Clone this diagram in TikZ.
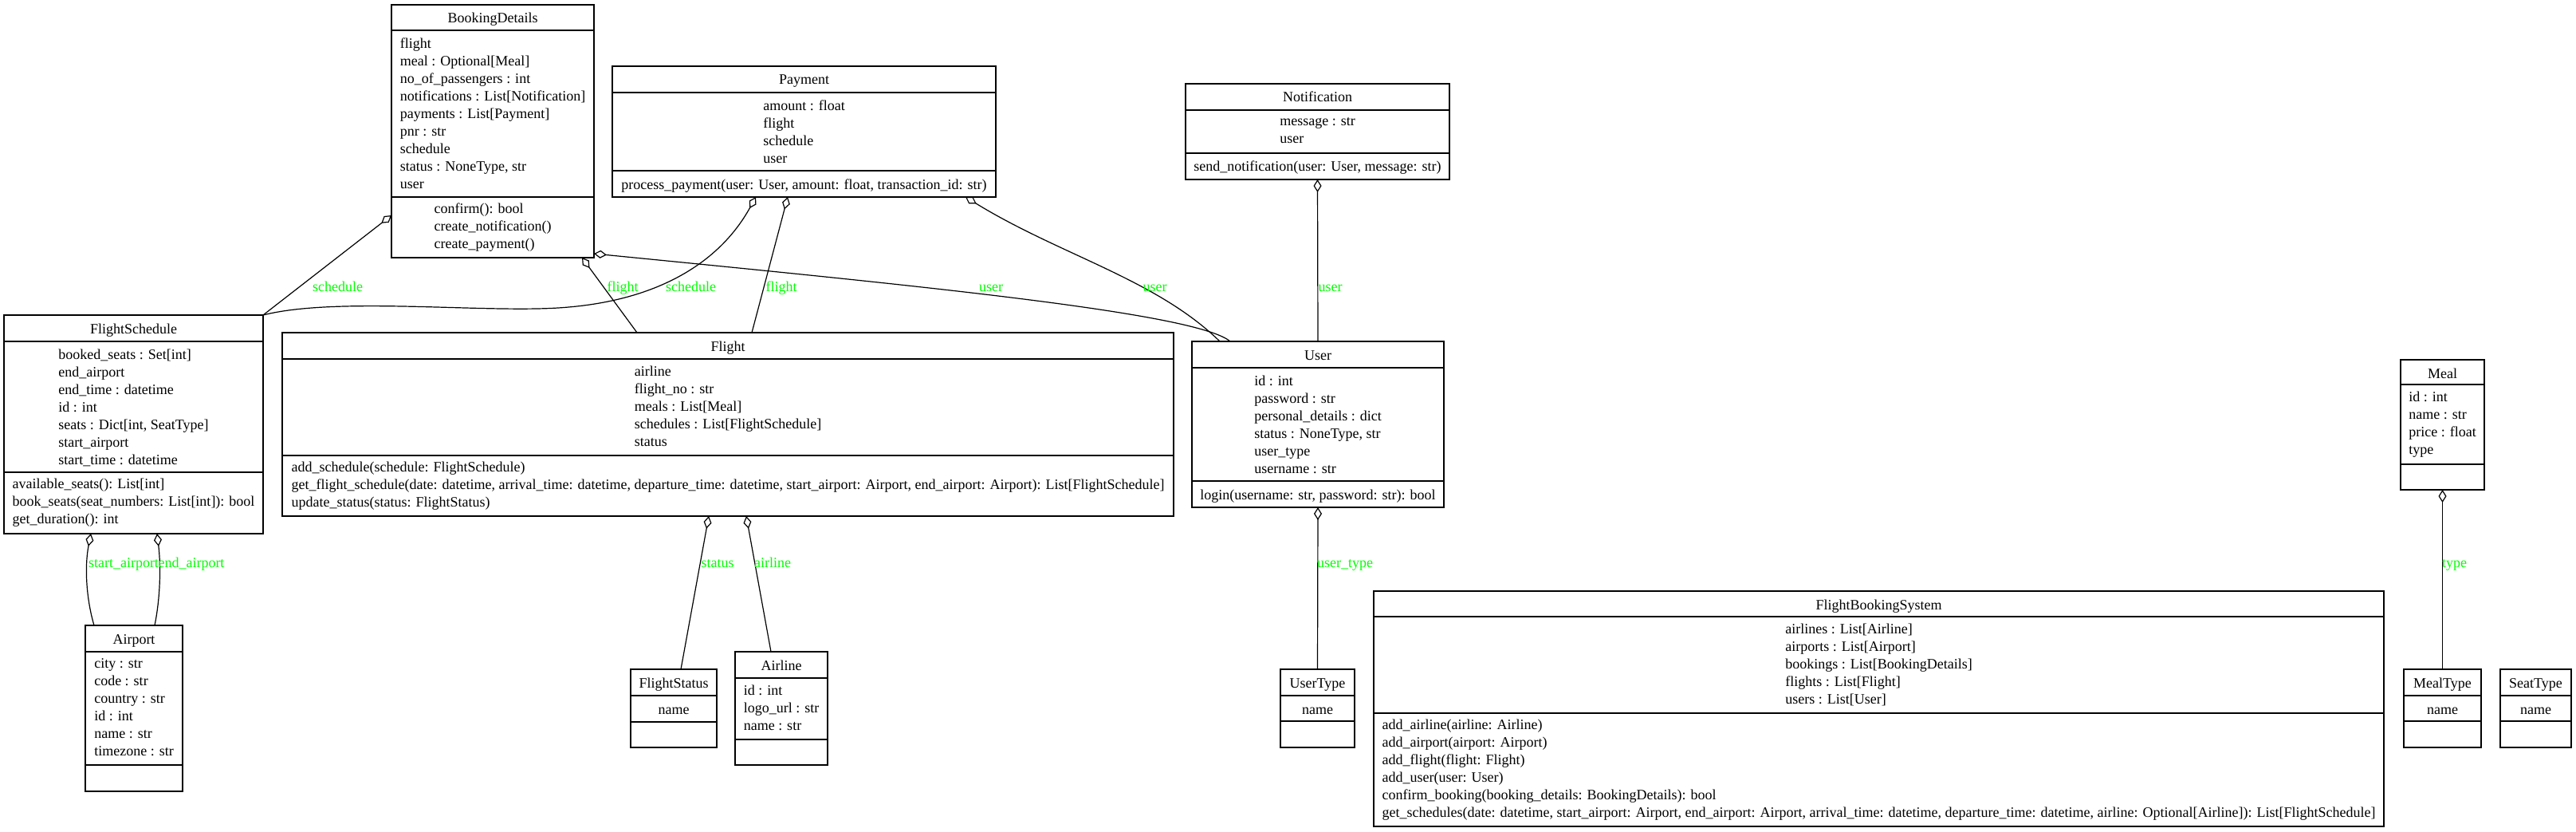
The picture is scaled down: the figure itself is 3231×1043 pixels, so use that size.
\documentclass[tikz,border=0pt]{standalone}
\usepackage{fontspec}
\setmainfont{Liberation Serif}
\usetikzlibrary{arrows.meta}
\definecolor{rolegreen}{RGB}{0,255,0}

\begin{document}
\begin{tikzpicture}[x=1pt, y=-1pt, line width=1.2pt,
    every node/.append style={font=\fontsize{18}{22}\selectfont},
    agg/.style={{Diamond[open,length=16pt,width=10pt]}-}]
  \tikzstyle{cls} = [draw, anchor=north west, inner sep=0pt, outer sep=0pt]
  \tikzstyle{txt} = [anchor=north, align=left, inner sep=0pt, execute at begin node=\strut]
  \tikzstyle{role} = [anchor=base, inner sep=0pt, text=rolegreen]
  \useasboundingbox (0,0) rectangle (3231,1043);

  % BookingDetails
  \node (bd) [cls, minimum width=254pt, minimum height=317pt] at (491,6) {};
  \draw (bd.west |- 0,38) -- (bd.east |- 0,38);
  \draw (bd.west |- 0,247) -- (bd.east |- 0,247);
  \node (bd-name) [txt] at (bd.north |- 0,13) {BookingDetails};
  \node (bd-attr) [txt] at (bd.north |- 0,47) {flight\\meal : Optional[Meal]\\no\_of\_passengers : int\\notifications : List[Notification]\\payments : List[Payment]\\pnr : str\\schedule\\status : NoneType, str\\user};
  \node (bd-ops) [txt] at (bd.north |- 0,254) {confirm(): bool\\create\_notification()\\create\_payment()};

  % Payment
  \node (pay) [cls, minimum width=481pt, minimum height=164pt] at (768,83) {};
  \draw (pay.west |- 0,116) -- (pay.east |- 0,116);
  \draw (pay.west |- 0,214) -- (pay.east |- 0,214);
  \node (pay-name) [txt] at (pay.north |- 0,90) {Payment};
  \node (pay-attr) [txt] at (pay.north |- 0,125) {amount : float\\flight\\schedule\\user};
  \node (pay-ops) [txt] at (pay.north |- 0,221) {process\_payment(user: User, amount: float, transaction\_id: str)};

  % Notification
  \node (notif) [cls, minimum width=331pt, minimum height=120pt] at (1487,105) {};
  \draw (notif.west |- 0,138) -- (notif.east |- 0,138);
  \draw (notif.west |- 0,192) -- (notif.east |- 0,192);
  \node (notif-name) [txt] at (notif.north |- 0,112) {Notification};
  \node (notif-attr) [txt] at (notif.north |- 0,147) {message : str\\user};
  \node (notif-ops) [txt] at (notif.north |- 0,199) {send\_notification(user: User, message: str)};

  % FlightSchedule
  \node (fs) [cls, minimum width=325pt, minimum height=274pt] at (5,395) {};
  \draw (fs.west |- 0,428) -- (fs.east |- 0,428);
  \draw (fs.west |- 0,592) -- (fs.east |- 0,592);
  \node (fs-name) [txt] at (fs.north |- 0,402) {FlightSchedule};
  \node (fs-attr) [txt] at (fs.north |- 0,437) {booked\_seats : Set[int]\\end\_airport\\end\_time : datetime\\id : int\\seats : Dict[int, SeatType]\\start\_airport\\start\_time : datetime};
  \node (fs-ops) [txt] at (fs.north |- 0,599) {available\_seats(): List[int]\\book\_seats(seat\_numbers: List[int]): bool\\get\_duration(): int};

  % Flight
  \node (fl) [cls, minimum width=1118pt, minimum height=230pt] at (354,417) {};
  \draw (fl.west |- 0,450) -- (fl.east |- 0,450);
  \draw (fl.west |- 0,571) -- (fl.east |- 0,571);
  \node (fl-name) [txt] at (fl.north |- 0,424) {Flight};
  \node (fl-attr) [txt] at (fl.north |- 0,458) {airline\\flight\_no : str\\meals : List[Meal]\\schedules : List[FlightSchedule]\\status};
  \node (fl-ops) [txt] at (fl.north |- 0,578) {add\_schedule(schedule: FlightSchedule)\\get\_flight\_schedule(date: datetime, arrival\_time: datetime, departure\_time: datetime, start\_airport: Airport, end\_airport: Airport): List[FlightSchedule]\\update\_status(status: FlightStatus)};

  % User
  \node (user) [cls, minimum width=316pt, minimum height=208pt] at (1495,428) {};
  \draw (user.west |- 0,461) -- (user.east |- 0,461);
  \draw (user.west |- 0,603) -- (user.east |- 0,603);
  \node (user-name) [txt] at (user.north |- 0,435) {User};
  \node (user-attr) [txt] at (user.north |- 0,470) {id : int\\password : str\\personal\_details : dict\\status : NoneType, str\\user\_type\\username : str};
  \node (user-ops) [txt] at (user.north |- 0,610) {login(username: str, password: str): bool};

  % Airport
  \node (ap) [cls, minimum width=122pt, minimum height=208pt] at (107,784) {};
  \draw (ap.west |- 0,817) -- (ap.east |- 0,817);
  \draw (ap.west |- 0,959) -- (ap.east |- 0,959);
  \node (ap-name) [txt] at (ap.north |- 0,791) {Airport};
  \node (ap-attr) [txt] at (ap.north |- 0,825) {city : str\\code : str\\country : str\\id : int\\name : str\\timezone : str};

  % FlightStatus
  \node (fst) [cls, minimum width=108pt, minimum height=98pt] at (791,839) {};
  \draw (fst.west |- 0,872) -- (fst.east |- 0,872);
  \draw (fst.west |- 0,905) -- (fst.east |- 0,905);
  \node (fst-name) [txt] at (fst.north |- 0,846) {FlightStatus};
  \node (fst-attr) [txt] at (fst.north |- 0,879) {name};

  % Airline
  \node (al) [cls, minimum width=116pt, minimum height=142pt] at (922,817) {};
  \draw (al.west |- 0,850) -- (al.east |- 0,850);
  \draw (al.west |- 0,927) -- (al.east |- 0,927);
  \node (al-name) [txt] at (al.north |- 0,824) {Airline};
  \node (al-attr) [txt] at (al.north |- 0,858) {id : int\\logo\_url : str\\name : str};

  % UserType
  \node (ut) [cls, minimum width=93pt, minimum height=98pt] at (1606,839) {};
  \draw (ut.west |- 0,872) -- (ut.east |- 0,872);
  \draw (ut.west |- 0,904) -- (ut.east |- 0,904);
  \node (ut-name) [txt] at (ut.north |- 0,846) {UserType};
  \node (ut-attr) [txt] at (ut.north |- 0,879) {name};

  % FlightBookingSystem
  \node (fbs) [cls, minimum width=1267pt, minimum height=295pt] at (1723,741) {};
  \draw (fbs.west |- 0,773) -- (fbs.east |- 0,773);
  \draw (fbs.west |- 0,894) -- (fbs.east |- 0,894);
  \node (fbs-name) [txt] at (fbs.north |- 0,748) {FlightBookingSystem};
  \node (fbs-attr) [txt] at (fbs.north |- 0,781) {airlines : List[Airline]\\airports : List[Airport]\\bookings : List[BookingDetails]\\flights : List[Flight]\\users : List[User]};
  \node (fbs-ops) [txt] at (fbs.north |- 0,901) {add\_airline(airline: Airline)\\add\_airport(airport: Airport)\\add\_flight(flight: Flight)\\add\_user(user: User)\\confirm\_booking(booking\_details: BookingDetails): bool\\get\_schedules(date: datetime, start\_airport: Airport, end\_airport: Airport, arrival\_time: datetime, departure\_time: datetime, airline: Optional[Airline]): List[FlightSchedule]};

  % Meal
  \node (meal) [cls, minimum width=105pt, minimum height=163pt] at (3011,451) {};
  \draw (meal.west |- 0,482) -- (meal.east |- 0,482);
  \draw (meal.west |- 0,582) -- (meal.east |- 0,582);
  \node (meal-name) [txt] at (meal.north |- 0,458) {Meal};
  \node (meal-attr) [txt] at (meal.north |- 0,490) {id : int\\name : str\\price : float\\type};

  % MealType
  \node (mt) [cls, minimum width=97pt, minimum height=98pt] at (3015,839) {};
  \draw (mt.west |- 0,872) -- (mt.east |- 0,872);
  \draw (mt.west |- 0,904) -- (mt.east |- 0,904);
  \node (mt-name) [txt] at (mt.north |- 0,846) {MealType};
  \node (mt-attr) [txt] at (mt.north |- 0,879) {name};

  % SeatType
  \node (st) [cls, minimum width=89pt, minimum height=98pt] at (3136,839) {};
  \draw (st.west |- 0,872) -- (st.east |- 0,872);
  \draw (st.west |- 0,904) -- (st.east |- 0,904);
  \node (st-name) [txt] at (st.north |- 0,846) {SeatType};
  \node (st-attr) [txt] at (st.north |- 0,879) {name};

  % aggregations
  \draw[agg] (bd.west |- 0,270) -- (fs.north east);
  \draw[agg] (bd.south -| 730,0) -- (fl.north -| 799,0);
  \draw[agg] (bd.east |- 0,318) .. controls (1150,358) and (1500,392) .. (user.north -| 1543,0);
  \draw[agg] (pay.south -| 948,0) .. controls (905,325) and (830,378) .. (700,386)
    .. controls (600,392) and (420,372) .. (fs.north east);
  \draw[agg] (pay.south -| 988,0) -- (fl.north -| 943,0);
  \draw[agg] (pay.south -| 1211,0) .. controls (1330,320) and (1450,350) .. (user.north -| 1530,0);
  \draw[agg] (notif.south) -- (user.north);
  \draw[agg] (fs.south -| 114,0) .. controls (106,710) and (108,750) .. (ap.north -| 118,0);
  \draw[agg] (fs.south -| 197,0) .. controls (202,710) and (201,750) .. (ap.north -| 194,0);
  \draw[agg] (fl.south -| 889,0) -- (fst.north -| 854,0);
  \draw[agg] (fl.south -| 936,0) -- (al.north -| 967,0);
  \draw[agg] (user.south) -- (ut.north);
  \draw[agg] (meal.south) -- (mt.north);

  % role labels
  \node (r-bd-fs) [role] at (423.5,365) {schedule};
  \node (r-bd-fl) [role] at (781,365) {flight};
  \node (r-pay-fs) [role] at (866.5,365) {schedule};
  \node (r-pay-fl) [role] at (980,365) {flight};
  \node (r-bd-user) [role] at (1243,365) {user};
  \node (r-pay-user) [role] at (1448.5,365) {user};
  \node (r-notif-user) [role] at (1668.5,365) {user};
  \node (r-start) [role] at (155,711) {start\_airport};
  \node (r-end) [role] at (240,711) {end\_airport};
  \node (r-status) [role] at (900,711) {status};
  \node (r-airline) [role] at (969,711) {airline};
  \node (r-usertype) [role] at (1687,711) {user\_type};
  \node (r-type) [role] at (3078.5,711) {type};
\end{tikzpicture}
\end{document}
